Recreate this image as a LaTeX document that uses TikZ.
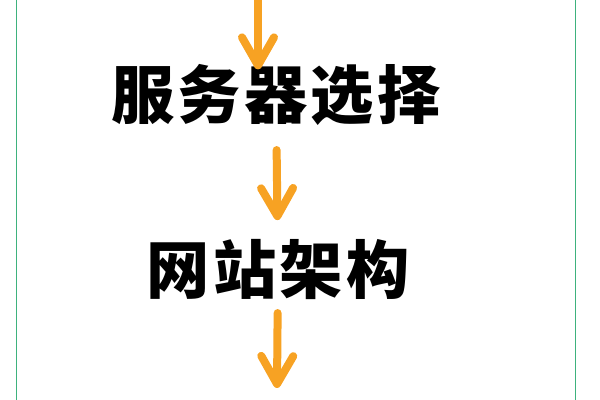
\documentclass[tikz,border=0pt]{standalone}
\usepackage{fontspec}
\newfontfamily\cjk[LetterSpace=5]{Noto Sans CJK SC}
\usepackage{xcolor}
\usepackage{tikz}
\usetikzlibrary{arrows.meta,positioning,calc}
\definecolor{framegreen}{RGB}{62,178,125}
\definecolor{floworange}{RGB}{247,162,35}
\newcommand{\stepfont}{\cjk\bfseries\fontsize{45}{50}\selectfont}

\begin{document}
\begin{tikzpicture}
    \tikzstyle{every node}=[font=\stepfont]
    \tikzstyle{stage}=[inner sep=0pt, text height=1.32cm, text depth=0.11cm]
    \tikzstyle{flow}=[floworange, line width=0.2cm, line cap=round, -{Straight Barb[length=0.7cm,width=0.8cm,round]}]
    \useasboundingbox (0,0) rectangle (15,10); %
    \draw[framegreen, line width=0.7pt] (0.4,0) -- (0.4,10); %
    \draw[framegreen, line width=0.7pt] (14.375,0) -- (14.375,10); %
    \node[stage] (server) at (6.9,7.65) {服务器选择}; %
    \node[stage] (site) at ($(server)+(0.05,-4.375)$) {网站架构}; %
    \coordinate (in) at (6.45,10); %
    \coordinate (out) at (6.925,0.3); %
    \draw[flow, shorten >=-3pt] (in) -- (in |- server.north); %
    \draw[flow, shorten <=0.68cm, shorten >=0.5cm] (server) -- (site); %
    \draw[flow, shorten <=0.38cm] (site) -- (out); %
\end{tikzpicture}
\end{document}
